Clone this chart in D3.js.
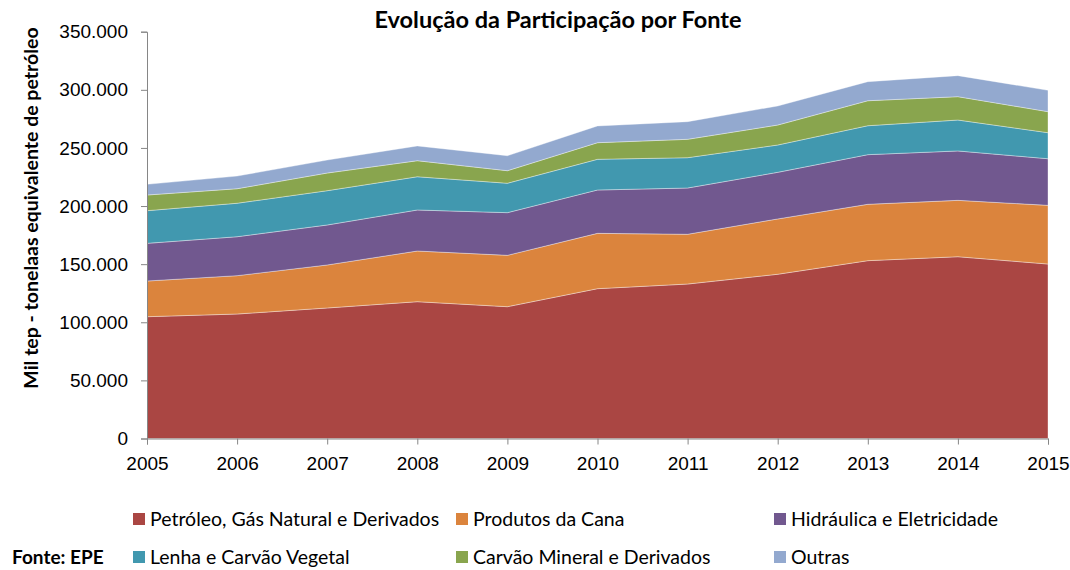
<!DOCTYPE html>
<html>
<head>
<meta charset="utf-8">
<script src="https://cdn.jsdelivr.net/npm/d3@7"></script>
<style>
  body { margin: 0; background: #fff; }
  svg { font-family: Lato, "Open Sans", sans-serif; }
</style>
</head>
<body>
<svg id="chart" width="1070" height="570"></svg>
<script>
// anos e séries (mil tep)
const years = [2005, 2006, 2007, 2008, 2009, 2010, 2011, 2012, 2013, 2014, 2015];
const petroleo = [104800, 107100, 112300, 117700, 113400, 128900, 132900, 141300, 153000, 156400, 150100];
const cana = [30700, 33000, 37000, 43600, 44200, 47600, 42800, 47600, 48500, 48500, 50500];
const hidraulica = [32400, 33500, 34400, 35300, 36700, 37300, 39800, 40100, 42700, 42500, 40100];
const lenha = [28100, 28800, 29500, 28600, 25300, 26400, 26100, 23500, 24900, 26600, 22400];
const carvao = [13500, 12500, 15200, 13800, 10800, 14300, 15800, 17200, 21500, 20100, 18100];
const outras = [9200, 10900, 11200, 12700, 12900, 14400, 15200, 16400, 16400, 18100, 18400];
const seriesNames = ["Petróleo, Gás Natural e Derivados", "Produtos da Cana", "Hidráulica e Eletricidade",
  "Lenha e Carvão Vegetal", "Carvão Mineral e Derivados", "Outras"];
const yTicks = [0, 50000, 100000, 150000, 200000, 250000, 300000, 350000];

const colors = ["#AA4643", "#DB843D", "#71588F", "#4198AF", "#89A54E", "#93A9CF"];
const seriesData = [petroleo, cana, hidraulica, lenha, carvao, outras];

const svg = d3.select("#chart");
const plot = { left: 147, right: 1048, top: 31.7, bottom: 438.5 };

const x = d3.scaleLinear().domain([2005, 2015]).range([plot.left, plot.right]);
const y = d3.scaleLinear().domain([0, 350000]).range([plot.bottom, plot.top]);

const rows = years.map((yr, i) => {
  const r = { year: yr };
  seriesNames.forEach((n, k) => r[n] = seriesData[k][i]);
  return r;
});
const stack = d3.stack().keys(seriesNames)(rows);

const area = d3.area()
  .x(d => x(d.data.year))
  .y0(d => y(d[0]))
  .y1(d => y(d[1]));

svg.append("g").selectAll("path")
  .data(stack)
  .join("path")
  .attr("d", area)
  .attr("fill", (d, i) => colors[i])
  .attr("stroke", "rgba(255,255,255,0.45)")
  .attr("stroke-width", 0.8);

// eixo Y
const yAxis = svg.append("g")
  .attr("transform", `translate(${plot.left},0)`)
  .call(d3.axisLeft(y).tickValues(yTicks).tickSize(6).tickPadding(13)
    .tickFormat(d => d3.format(",")(d).replace(/,/g, ".")));
yAxis.select(".domain").attr("stroke", "#868686");
yAxis.selectAll(".tick line").attr("stroke", "#868686");
yAxis.selectAll("text").attr("font-size", 19).attr("fill", "#000").attr("font-family", "inherit");

// eixo X
const xAxis = svg.append("g")
  .attr("transform", `translate(0,${plot.bottom})`)
  .call(d3.axisBottom(x).tickValues(years).tickSize(6).tickPadding(12).tickFormat(d3.format("d")));
xAxis.select(".domain").attr("stroke", "#868686");
xAxis.selectAll(".tick line").attr("stroke", "#868686");
xAxis.selectAll("text").attr("font-size", 19).attr("fill", "#000").attr("font-family", "inherit");

// título
svg.append("text")
  .attr("x", 558).attr("y", 28)
  .attr("text-anchor", "middle")
  .attr("font-size", 23.5).attr("font-weight", "bold")
  .text("Evolução da Participação por Fonte");

// rótulo do eixo Y
svg.append("text")
  .attr("transform", "translate(38,208) rotate(-90)")
  .attr("text-anchor", "middle")
  .attr("font-size", 19.5).attr("font-weight", "bold")
  .text("Mil tep - tonelaas equivalente de petróleo");

// legenda
const legendPos = [[133, 519], [456, 519], [774, 519], [133, 557], [456, 557], [774, 557]];
const legend = svg.append("g").selectAll("g")
  .data(seriesNames)
  .join("g")
  .attr("transform", (d, i) => `translate(${legendPos[i][0]},${legendPos[i][1]})`);
legend.append("rect")
  .attr("x", 0).attr("y", -6).attr("width", 12).attr("height", 12)
  .attr("fill", (d, i) => colors[i]);
legend.append("text")
  .attr("x", 17).attr("y", 7)
  .attr("font-size", 19.5)
  .text(d => d);

svg.append("text")
  .attr("x", 12).attr("y", 564)
  .attr("font-size", 19).attr("font-weight", "bold")
  .text("Fonte: EPE");
</script>
</body>
</html>
